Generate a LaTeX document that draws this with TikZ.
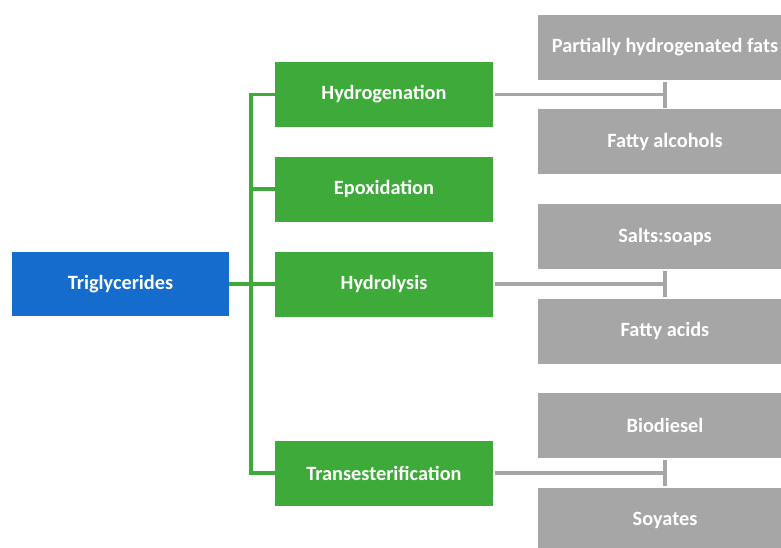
\documentclass[tikz,border=0pt]{standalone}
\usepackage{fontspec}
\setmainfont{Carlito}
\definecolor{bluebox}{RGB}{22,108,204}
\definecolor{greenbox}{RGB}{62,170,58}
\definecolor{graybox}{RGB}{166,166,166}
\begin{document}
\begin{tikzpicture}[x=1pt,y=-1pt,
  basebox/.style={rectangle, draw=none, text=white, font=\bfseries\fontsize{20.3}{24}\selectfont, inner sep=0pt},
  bluenode/.style={basebox, fill=bluebox, minimum width=217pt, minimum height=64pt},
  greennode/.style={basebox, fill=greenbox, minimum width=218pt, minimum height=65pt},
  graynode/.style={basebox, fill=graybox, minimum width=254pt, minimum height=65pt},
  gline/.style={draw=greenbox, line width=3.2pt},
  grline/.style={draw=graybox, line width=3.2pt}]
\useasboundingbox (0,0) rectangle (781,547);
\clip (0,0) rectangle (781,547);
\fill[white] (0,0) rectangle (781,547);
\node[bluenode] (tri) at (120.5,284) {Triglycerides};
\node[greennode] (hyd) at (384,94.5) {Hydrogenation};
\node[greennode] (epo) at (384,189) {Epoxidation};
\node[greennode] (hyl) at (384,284) {Hydrolysis};
\node[greennode] (tra) at (384,473) {Transesterification};
\node[graynode] (phf) at (665,47) {Partially hydrogenated fats};
\node[graynode] (fal) at (665,141.5) {Fatty alcohols};
\node[graynode] (sal) at (665,236.5) {Salts:soaps};
\node[graynode] (fac) at (665,331) {Fatty acids};
\node[graynode] (bio) at (665,425) {Biodiesel};
\node[graynode] (soy) at (665,520) {Soyates};
\coordinate (stop) at (251,94.5);
\coordinate (sbot) at (251,473);
\draw[gline] ([yshift=-1.6pt]stop) -- ([yshift=1.6pt]sbot);
\draw[gline] (tri.east) -- (tri.east -| stop);
\draw[gline] ([xshift=-1.6pt]stop) -- (hyd.west);
\draw[gline] (epo.west -| stop) -- (epo.west);
\draw[gline] (hyl.west -| stop) -- (hyl.west);
\draw[gline] ([xshift=-1.6pt]sbot) -- (tra.west);
\draw[grline] ([xshift=2pt]hyd.east) -- (hyd.east -| phf.center);
\draw[grline] ([yshift=-2pt]phf.south) -- ([yshift=1pt]fal.north);
\draw[grline] ([xshift=2pt]hyl.east) -- (hyl.east -| sal.center);
\draw[grline] ([yshift=-2pt]sal.south) -- ([yshift=1pt]fac.north);
\draw[grline] ([xshift=2pt]tra.east) -- (tra.east -| bio.center);
\draw[grline] ([yshift=-2pt]bio.south) -- ([yshift=1pt]soy.north);
\end{tikzpicture}
\end{document}
